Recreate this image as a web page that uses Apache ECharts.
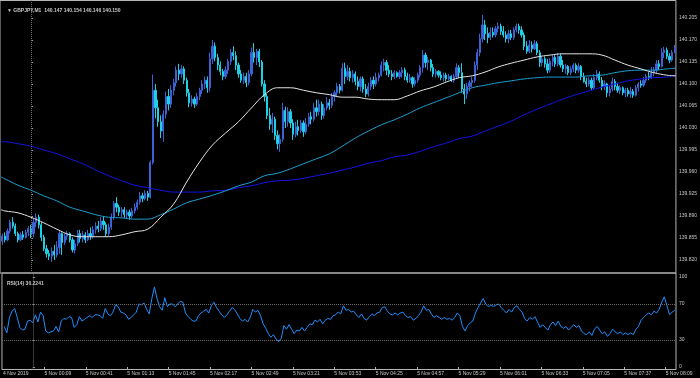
<!DOCTYPE html>
<html>
<head>
<meta charset="utf-8">
<title>GBPJPY,M1</title>
<script src="https://cdn.jsdelivr.net/npm/echarts@6/dist/echarts.min.js"></script>
<style>
  html, body { margin: 0; padding: 0; background: #000; }
  #chart { width: 700px; height: 378px; }
</style>
</head>
<body>
<div id="chart"></div>
<script>
// 2-minute bars, x counted in minutes from 5 Nov 2019 00:00
const firstBarMinute = -22;
const barStep = 2;

const opens = [
  139.850, 139.858, 139.852, 139.866, 139.880, 139.874, 139.862, 139.852, 139.860, 139.856,
  139.864, 139.870, 139.862, 139.880, 139.888, 139.876, 139.856, 139.838, 139.830, 139.826,
  139.834, 139.828, 139.840, 139.862, 139.848, 139.858, 139.862, 139.852, 139.836, 139.846,
  139.862, 139.854, 139.860, 139.852, 139.862, 139.858, 139.868, 139.874, 139.870, 139.882,
  139.876, 139.862, 139.872, 139.888, 139.910, 139.904, 139.896, 139.900, 139.892, 139.896,
  139.890, 139.898, 139.904, 139.912, 139.922, 139.918, 139.926, 139.920, 139.975, 140.090,
  140.062, 140.040, 140.025, 140.052, 140.080, 140.068, 140.090, 140.102, 140.122, 140.116,
  140.124, 140.106, 140.086, 140.070, 140.076, 140.068, 140.080, 140.090, 140.100, 140.106,
  140.094, 140.140, 140.160, 140.142, 140.130, 140.120, 140.112, 140.122, 140.136, 140.150,
  140.145, 140.130, 140.116, 140.106, 140.112, 140.102, 140.116, 140.150, 140.142, 140.152,
  140.135, 140.100, 140.080, 140.050, 140.036, 140.044, 140.018, 140.005, 140.012, 140.058,
  140.040, 140.056, 140.038, 140.020, 140.032, 140.026, 140.038, 140.024, 140.036, 140.048,
  140.044, 140.062, 140.056, 140.068, 140.050, 140.062, 140.070, 140.066, 140.080, 140.086,
  140.096, 140.090, 140.125, 140.112, 140.120, 140.110, 140.116, 140.104, 140.096, 140.108,
  140.092, 140.084, 140.096, 140.106, 140.100, 140.110, 140.114, 140.130, 140.134, 140.122,
  140.116, 140.112, 140.118, 140.112, 140.118, 140.122, 140.112, 140.106, 140.110, 140.100,
  140.106, 140.114, 140.126, 140.146, 140.134, 140.138, 140.126, 140.116, 140.120, 140.114,
  140.110, 140.114, 140.108, 140.112, 140.106, 140.112, 140.126, 140.118, 140.092, 140.084,
  140.096, 140.102, 140.106, 140.130, 140.150, 140.172, 140.194, 140.180, 140.174, 140.182,
  140.178, 140.188, 140.192, 140.184, 140.178, 140.172, 140.180, 140.174, 140.186, 140.192,
  140.186, 140.178, 140.160, 140.152, 140.162, 140.156, 140.164, 140.150, 140.134, 140.140,
  140.132, 140.122, 140.136, 140.142, 140.132, 140.144, 140.130, 140.124, 140.128, 140.118,
  140.124, 140.130, 140.122, 140.128, 140.112, 140.104, 140.100, 140.106, 140.094, 140.110,
  140.116, 140.106, 140.096, 140.100, 140.086, 140.092, 140.104, 140.096, 140.090, 140.094,
  140.086, 140.090, 140.084, 140.088, 140.082, 140.094, 140.100, 140.098, 140.106, 140.112,
  140.110, 140.118, 140.122, 140.132, 140.128, 140.150, 140.154, 140.144, 140.138, 140.150
];
const closes = [
  139.858, 139.852, 139.866, 139.880, 139.874, 139.862, 139.852, 139.860, 139.856, 139.864,
  139.870, 139.862, 139.880, 139.888, 139.876, 139.856, 139.838, 139.830, 139.826, 139.834,
  139.828, 139.840, 139.862, 139.848, 139.858, 139.862, 139.852, 139.836, 139.846, 139.862,
  139.854, 139.860, 139.852, 139.862, 139.858, 139.868, 139.874, 139.870, 139.882, 139.876,
  139.862, 139.872, 139.888, 139.910, 139.904, 139.896, 139.900, 139.892, 139.896, 139.890,
  139.898, 139.904, 139.912, 139.922, 139.918, 139.926, 139.920, 139.975, 140.090, 140.062,
  140.040, 140.025, 140.052, 140.080, 140.068, 140.090, 140.102, 140.122, 140.116, 140.124,
  140.106, 140.086, 140.070, 140.076, 140.068, 140.080, 140.090, 140.100, 140.106, 140.094,
  140.140, 140.160, 140.142, 140.130, 140.120, 140.112, 140.122, 140.136, 140.150, 140.145,
  140.130, 140.116, 140.106, 140.112, 140.102, 140.116, 140.150, 140.142, 140.152, 140.135,
  140.100, 140.080, 140.050, 140.036, 140.044, 140.018, 140.005, 140.012, 140.058, 140.040,
  140.056, 140.038, 140.020, 140.032, 140.026, 140.038, 140.024, 140.036, 140.048, 140.044,
  140.062, 140.056, 140.068, 140.050, 140.062, 140.070, 140.066, 140.080, 140.086, 140.096,
  140.090, 140.125, 140.112, 140.120, 140.110, 140.116, 140.104, 140.096, 140.108, 140.092,
  140.084, 140.096, 140.106, 140.100, 140.110, 140.114, 140.130, 140.134, 140.122, 140.116,
  140.112, 140.118, 140.112, 140.118, 140.122, 140.112, 140.106, 140.110, 140.100, 140.106,
  140.114, 140.126, 140.146, 140.134, 140.138, 140.126, 140.116, 140.120, 140.114, 140.110,
  140.114, 140.108, 140.112, 140.106, 140.112, 140.126, 140.118, 140.092, 140.084, 140.096,
  140.102, 140.106, 140.130, 140.150, 140.172, 140.194, 140.180, 140.174, 140.182, 140.178,
  140.188, 140.192, 140.184, 140.178, 140.172, 140.180, 140.174, 140.186, 140.192, 140.186,
  140.178, 140.160, 140.152, 140.162, 140.156, 140.164, 140.150, 140.134, 140.140, 140.132,
  140.122, 140.136, 140.142, 140.132, 140.144, 140.130, 140.124, 140.128, 140.118, 140.124,
  140.130, 140.122, 140.128, 140.112, 140.104, 140.100, 140.106, 140.094, 140.110, 140.116,
  140.106, 140.096, 140.100, 140.086, 140.092, 140.104, 140.096, 140.090, 140.094, 140.086,
  140.090, 140.084, 140.088, 140.082, 140.094, 140.100, 140.098, 140.106, 140.112, 140.110,
  140.118, 140.122, 140.132, 140.128, 140.150, 140.154, 140.144, 140.138, 140.150, 140.156
];
const lows = [
  139.844, 139.848, 139.850, 139.862, 139.870, 139.858, 139.848, 139.850, 139.852, 139.854,
  139.858, 139.855, 139.856, 139.872, 139.870, 139.850, 139.834, 139.824, 139.820, 139.817,
  139.820, 139.824, 139.830, 139.828, 139.844, 139.852, 139.848, 139.832, 139.830, 139.842,
  139.848, 139.848, 139.847, 139.850, 139.852, 139.854, 139.862, 139.864, 139.866, 139.868,
  139.857, 139.858, 139.868, 139.884, 139.896, 139.890, 139.888, 139.887, 139.886, 139.884,
  139.886, 139.894, 139.900, 139.908, 139.912, 139.915, 139.914, 139.918, 139.972, 140.045,
  140.032, 140.014, 140.008, 140.045, 140.058, 140.062, 140.082, 140.096, 140.106, 140.110,
  140.100, 140.080, 140.063, 140.064, 140.062, 140.065, 140.074, 140.084, 140.092, 140.086,
  140.088, 140.132, 140.136, 140.122, 140.114, 140.106, 140.108, 140.116, 140.130, 140.138,
  140.122, 140.110, 140.102, 140.100, 140.095, 140.098, 140.112, 140.134, 140.130, 140.127,
  140.096, 140.072, 140.044, 140.027, 140.022, 140.011, 139.996, 139.992, 140.008, 140.030,
  140.032, 140.030, 140.011, 140.015, 140.018, 140.022, 140.016, 140.020, 140.032, 140.036,
  140.040, 140.048, 140.050, 140.043, 140.045, 140.058, 140.059, 140.062, 140.072, 140.080,
  140.085, 140.088, 140.100, 140.106, 140.104, 140.102, 140.098, 140.090, 140.088, 140.086,
  140.079, 140.080, 140.090, 140.092, 140.096, 140.104, 140.112, 140.120, 140.114, 140.111,
  140.106, 140.108, 140.110, 140.108, 140.110, 140.106, 140.102, 140.102, 140.094, 140.096,
  140.102, 140.110, 140.118, 140.126, 140.122, 140.120, 140.111, 140.110, 140.110, 140.106,
  140.104, 140.104, 140.106, 140.103, 140.102, 140.108, 140.110, 140.086, 140.068, 140.076,
  140.088, 140.095, 140.102, 140.122, 140.144, 140.166, 140.170, 140.165, 140.170, 140.174,
  140.174, 140.182, 140.178, 140.174, 140.166, 140.165, 140.170, 140.170, 140.182, 140.180,
  140.174, 140.154, 140.148, 140.149, 140.150, 140.154, 140.146, 140.127, 140.128, 140.126,
  140.117, 140.118, 140.128, 140.127, 140.128, 140.126, 140.119, 140.116, 140.114, 140.114,
  140.119, 140.117, 140.118, 140.106, 140.102, 140.095, 140.096, 140.090, 140.092, 140.106,
  140.102, 140.090, 140.090, 140.079, 140.080, 140.088, 140.090, 140.086, 140.084, 140.082,
  140.079, 140.080, 140.078, 140.078, 140.080, 140.088, 140.094, 140.095, 140.102, 140.106,
  140.108, 140.112, 140.117, 140.122, 140.126, 140.141, 140.140, 140.133, 140.135, 140.149
];
const highs = [
  139.862, 139.864, 139.870, 139.884, 139.888, 139.878, 139.865, 139.864, 139.866, 139.868,
  139.874, 139.876, 139.886, 139.894, 139.892, 139.880, 139.860, 139.844, 139.836, 139.840,
  139.844, 139.850, 139.866, 139.864, 139.862, 139.866, 139.864, 139.856, 139.852, 139.868,
  139.868, 139.866, 139.864, 139.868, 139.872, 139.874, 139.880, 139.882, 139.888, 139.890,
  139.880, 139.878, 139.894, 139.914, 139.920, 139.908, 139.904, 139.904, 139.900, 139.900,
  139.903, 139.910, 139.916, 139.928, 139.927, 139.931, 139.930, 139.978, 140.115, 140.100,
  140.075, 140.050, 140.058, 140.088, 140.092, 140.098, 140.108, 140.128, 140.132, 140.130,
  140.128, 140.110, 140.092, 140.082, 140.080, 140.086, 140.094, 140.106, 140.112, 140.112,
  140.150, 140.170, 140.166, 140.148, 140.136, 140.124, 140.128, 140.140, 140.156, 140.160,
  140.152, 140.134, 140.122, 140.118, 140.118, 140.122, 140.158, 140.165, 140.156, 140.156,
  140.138, 140.106, 140.084, 140.062, 140.054, 140.048, 140.026, 140.020, 140.070, 140.064,
  140.063, 140.060, 140.044, 140.040, 140.043, 140.043, 140.042, 140.046, 140.054, 140.056,
  140.070, 140.075, 140.075, 140.072, 140.068, 140.079, 140.076, 140.086, 140.090, 140.102,
  140.100, 140.133, 140.134, 140.130, 140.126, 140.122, 140.120, 140.112, 140.112, 140.112,
  140.100, 140.102, 140.111, 140.112, 140.118, 140.118, 140.136, 140.140, 140.138, 140.130,
  140.122, 140.122, 140.120, 140.122, 140.127, 140.126, 140.118, 140.116, 140.112, 140.111,
  140.118, 140.130, 140.154, 140.150, 140.143, 140.140, 140.132, 140.124, 140.122, 140.120,
  140.118, 140.118, 140.116, 140.114, 140.116, 140.133, 140.130, 140.133, 140.100, 140.102,
  140.106, 140.111, 140.136, 140.156, 140.180, 140.210, 140.202, 140.190, 140.190, 140.190,
  140.192, 140.198, 140.196, 140.192, 140.184, 140.186, 140.186, 140.190, 140.196, 140.196,
  140.192, 140.182, 140.168, 140.170, 140.168, 140.170, 140.168, 140.154, 140.144, 140.144,
  140.140, 140.141, 140.146, 140.146, 140.149, 140.148, 140.138, 140.132, 140.130, 140.128,
  140.133, 140.133, 140.133, 140.130, 140.118, 140.110, 140.111, 140.110, 140.116, 140.122,
  140.120, 140.111, 140.106, 140.102, 140.098, 140.110, 140.108, 140.102, 140.098, 140.096,
  140.094, 140.094, 140.095, 140.092, 140.098, 140.103, 140.106, 140.111, 140.116, 140.119,
  140.127, 140.127, 140.138, 140.138, 140.157, 140.159, 140.158, 140.149, 140.154, 140.162
];

// RSI(14), one value per bar
const rsiValues = [
  45, 38, 55, 62, 65, 55, 44, 41, 42, 51,
  52, 49, 58, 50, 61, 57, 40, 38, 39, 40,
  45, 39, 51, 54, 53, 56, 55, 44, 47, 56,
  51, 53, 55, 57, 55, 58, 58, 57, 54, 65,
  59, 57, 61, 69, 67, 61, 60, 58, 53, 55,
  58, 61, 70, 69, 71, 64, 59, 76, 89, 76,
  67, 63, 77, 67, 70, 70, 67, 70, 73, 72,
  60, 56, 53, 51, 51, 57, 60, 62, 64, 60,
  68, 72, 66, 62, 58, 55, 58, 62, 66, 64,
  59, 54, 51, 53, 50, 55, 64, 61, 63, 57,
  48, 43, 37, 33, 36, 31, 28, 32, 46, 42,
  47, 42, 37, 41, 40, 44, 40, 44, 48, 47,
  52, 50, 53, 48, 52, 54, 53, 57, 58, 61,
  59, 68, 63, 64, 61, 62, 58, 55, 59, 54,
  52, 56, 59, 57, 60, 61, 66, 67, 62, 59,
  58, 60, 58, 60, 61, 57, 55, 56, 52, 54,
  57, 61, 68, 63, 64, 59, 55, 57, 55, 53,
  55, 53, 54, 52, 55, 60, 57, 45, 40, 46,
  49, 51, 60, 66, 71, 76, 70, 67, 69, 67,
  69, 70, 66, 63, 60, 64, 61, 66, 68, 64,
  61, 54, 51, 55, 53, 56, 50, 44, 47, 44,
  41, 47, 50, 46, 51, 45, 43, 45, 41, 44,
  47, 44, 46, 40, 37, 36, 39, 35, 42, 45,
  41, 37, 39, 34, 37, 42, 39, 37, 39, 36,
  38, 36, 38, 36, 42, 45, 52, 55, 58, 60,
  58, 62, 60, 64, 72, 78, 68, 58, 61, 63
];

// moving averages
const maMinutes = [-23, -20, -10, 0, 10, 20, 30, 40, 50, 60, 70, 80, 90, 100, 110, 120, 130, 140,
  150, 160, 170, 180, 190, 200, 210, 220, 230, 240, 250, 260, 270, 280, 290, 300, 310, 320, 330,
  340, 350, 360, 370, 380, 390, 400, 410, 420, 430, 440, 450, 460, 470, 480, 490, 497];
const maWhite = [139.900, 139.898, 139.895, 139.888, 139.879, 139.869, 139.860, 139.857, 139.857,
  139.857, 139.860, 139.865, 139.869, 139.888, 139.909, 139.944, 139.976, 140.003, 140.022, 140.040,
  140.062, 140.083, 140.094, 140.094, 140.090, 140.086, 140.083, 140.079, 140.079, 140.076, 140.075,
  140.075, 140.081, 140.089, 140.095, 140.103, 140.110, 140.113, 140.119, 140.127, 140.133, 140.138,
  140.143, 140.146, 140.148, 140.148, 140.148, 140.146, 140.138, 140.130, 140.124, 140.118, 140.114,
  140.113];
const maTeal = [139.952, 139.949, 139.939, 139.931, 139.922, 139.914, 139.904, 139.898, 139.892,
  139.888, 139.887, 139.885, 139.885, 139.892, 139.901, 139.911, 139.917, 139.923, 139.930, 139.938,
  139.944, 139.954, 139.958, 139.965, 139.973, 139.981, 139.989, 140.001, 140.014, 140.025, 140.035,
  140.043, 140.052, 140.062, 140.070, 140.078, 140.086, 140.094, 140.098, 140.102, 140.105, 140.108,
  140.110, 140.111, 140.111, 140.111, 140.113, 140.114, 140.118, 140.121, 140.122, 140.122, 140.124,
  140.125];
const maBlue = [140.008, 140.008, 140.005, 140.001, 139.995, 139.989, 139.981, 139.973, 139.963,
  139.954, 139.946, 139.939, 139.935, 139.931, 139.928, 139.928, 139.928, 139.930, 139.931, 139.935,
  139.938, 139.943, 139.946, 139.947, 139.950, 139.954, 139.958, 139.963, 139.968, 139.974, 139.978,
  139.984, 139.987, 139.993, 140.000, 140.006, 140.013, 140.017, 140.025, 140.033, 140.041, 140.051,
  140.060, 140.068, 140.076, 140.083, 140.089, 140.095, 140.100, 140.105, 140.108, 140.110, 140.111,
  140.113];

const priceTicks = [140.205, 140.170, 140.135, 140.100, 140.065, 140.030, 139.995, 139.960, 139.925,
  139.890, 139.855, 139.820];
const rsiTicks = [0, 30, 70, 100];
const rsiLevels = [30, 70];
const timeTicks = [-23, 9, 41, 73, 105, 137, 169, 201, 233, 265, 297, 329, 361, 393, 425, 457, 489];
const timeLabels = ['4 Nov 2019', '5 Nov 00:09', '5 Nov 00:41', '5 Nov 01:13', '5 Nov 01:45',
  '5 Nov 02:17', '5 Nov 02:49', '5 Nov 03:21', '5 Nov 03:53', '5 Nov 04:25', '5 Nov 04:57',
  '5 Nov 05:29', '5 Nov 06:01', '5 Nov 06:33', '5 Nov 07:05', '5 Nov 07:37', '5 Nov 08:09'];

const chart = echarts.init(document.getElementById('chart'));

const bars = opens.map((o, i) => [firstBarMinute + i * barStep, o, closes[i], lows[i], highs[i]]);
const rsiData = rsiValues.map((v, i) => [firstBarMinute + i * barStep, v]);
const maLine = vals => vals.map((v, i) => [maMinutes[i], v]);

const frame = '#b4b4b4';
const small = { color: '#c8c8c8', fontSize: 5, fontFamily: 'Liberation Sans, DejaVu Sans, sans-serif' };
const dotted = { color: '#6e6e6e', type: 'dotted', width: 1 };

const lineSeries = (data, color) => ({
  type: 'line',
  data: maLine(data),
  showSymbol: false,
  smooth: 0.4,
  z: 3,
  lineStyle: { color: color, width: 1 },
  silent: true
});

chart.setOption({
  backgroundColor: '#000',
  animation: false,
  title: [
    { text: '▼ GBPJPY,M1  140.147 140.154 140.146 140.150', left: 2, top: 3, textStyle: small },
    { text: 'RSI(14) 30.2241', left: 2, top: 276, textStyle: small }
  ],
  grid: [
    { left: -1, right: 24, top: 0.5, height: 272.5, show: true, borderColor: frame, borderWidth: 1 },
    { left: -1, right: 24, top: 273, height: 96.5, show: true, borderColor: frame, borderWidth: 1 }
  ],
  xAxis: [
    {
      type: 'value', gridIndex: 0, min: -23.8, max: 497,
      axisLine: { show: false }, axisTick: { show: false }, axisLabel: { show: false }, splitLine: { show: false }
    },
    {
      type: 'value', gridIndex: 1, min: -23.8, max: 497,
      axisLine: { show: false },
      axisTick: { show: true, customValues: timeTicks.slice(1), length: 3, lineStyle: { color: frame } },
      axisLabel: {
        customValues: timeTicks,
        formatter: v => timeLabels[timeTicks.indexOf(v)],
        align: 'left', margin: 2, ...small
      },
      splitLine: { show: false }
    }
  ],
  yAxis: [
    {
      type: 'value', gridIndex: 0, position: 'right', min: 139.7993, max: 140.2328,
      axisLine: { show: false },
      axisTick: { show: true, customValues: priceTicks, length: 2, lineStyle: { color: frame } },
      axisLabel: { customValues: priceTicks, formatter: v => v.toFixed(3), margin: 3, ...small },
      splitLine: { show: false }
    },
    {
      type: 'value', gridIndex: 1, position: 'right', min: -2.78, max: 104.44,
      axisLine: { show: false },
      axisTick: { show: true, customValues: rsiTicks, length: 2, lineStyle: { color: frame } },
      axisLabel: { customValues: rsiTicks, formatter: v => String(v), margin: 3, ...small },
      splitLine: { show: false }
    }
  ],
  series: [
    {
      type: 'candlestick',
      xAxisIndex: 0, yAxisIndex: 0,
      data: bars,
      encode: { x: 0, y: [1, 2, 3, 4] },
      barWidth: 1.7,
      z: 2,
      itemStyle: {
        color: '#3d62d6', borderColor: '#3d62d6',
        color0: '#1fd0e4', borderColor0: '#1fd0e4',
        borderWidth: 1
      },
      markLine: {
        silent: true, symbol: 'none', label: { show: false }, lineStyle: dotted,
        data: [{ xAxis: 0 }]
      }
    },
    Object.assign(lineSeries(maBlue, '#1414e8'), { xAxisIndex: 0, yAxisIndex: 0 }),
    Object.assign(lineSeries(maTeal, '#1c9fd2'), { xAxisIndex: 0, yAxisIndex: 0 }),
    Object.assign(lineSeries(maWhite, '#e6e6e6'), { xAxisIndex: 0, yAxisIndex: 0 }),
    {
      type: 'line',
      xAxisIndex: 1, yAxisIndex: 1,
      data: rsiData,
      showSymbol: false,
      lineStyle: { color: '#1e8fff', width: 1 },
      silent: true,
      markLine: {
        silent: true, symbol: 'none', label: { show: false }, lineStyle: dotted,
        data: rsiLevels.map(v => ({ yAxis: v })).concat([{ xAxis: 0 }])
      }
    }
  ]
});
</script>
</body>
</html>
